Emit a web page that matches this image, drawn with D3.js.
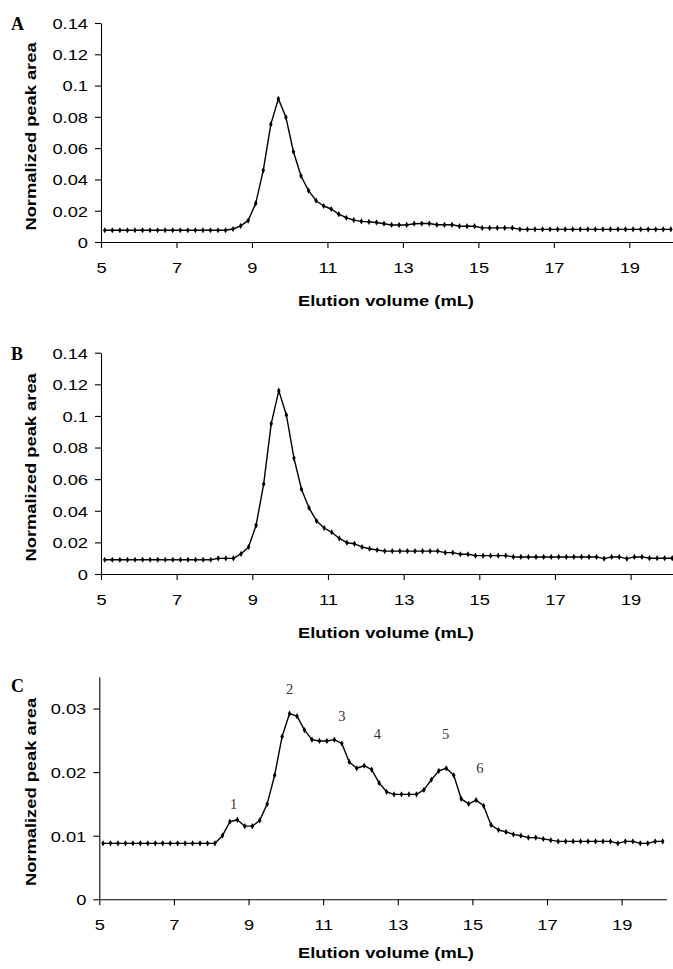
<!DOCTYPE html>
<html>
<head>
<meta charset="utf-8">
<script src="https://cdn.jsdelivr.net/npm/d3@7"></script>
<style>
  body { margin: 0; background: #fff; }
  svg { display: block; }
</style>
</head>
<body>
<div id="vis"></div>
<script>
/*
Data
*/

// elution volume of every collected fraction (mL)
const volumes = [
  5.1, 5.3, 5.5, 5.7, 5.9, 6.1, 6.3, 6.5, 6.7, 6.9,
  7.1, 7.3, 7.5, 7.7, 7.9, 8.1, 8.3, 8.5, 8.7, 8.9,
  9.1, 9.3, 9.5, 9.7, 9.9, 10.1, 10.3, 10.5, 10.7, 10.9,
  11.1, 11.3, 11.5, 11.7, 11.9, 12.1, 12.3, 12.5, 12.7, 12.9,
  13.1, 13.3, 13.5, 13.7, 13.9, 14.1, 14.3, 14.5, 14.7, 14.9,
  15.1, 15.3, 15.5, 15.7, 15.9, 16.1, 16.3, 16.5, 16.7, 16.9,
  17.1, 17.3, 17.5, 17.7, 17.9, 18.1, 18.3, 18.5, 18.7, 18.9,
  19.1, 19.3, 19.5, 19.7, 19.9, 20.1
];

const peakAreaA = [
  0.0075, 0.0075, 0.0075, 0.0075, 0.0075, 0.0075, 0.0075, 0.0075, 0.0075, 0.0075,
  0.0075, 0.0075, 0.0075, 0.0075, 0.0075, 0.0075, 0.0075, 0.0083, 0.0103, 0.0137,
  0.0247, 0.0458, 0.0752, 0.0916, 0.0797, 0.0577, 0.0422, 0.0328, 0.0264, 0.0230,
  0.0211, 0.0178, 0.0155, 0.0140, 0.0132, 0.0129, 0.0125, 0.0117, 0.0109, 0.0109,
  0.0109, 0.0117, 0.0118, 0.0118, 0.0110, 0.0110, 0.0110, 0.0101, 0.0101, 0.0101,
  0.0090, 0.0090, 0.0090, 0.0090, 0.0090, 0.0081, 0.0081, 0.0081, 0.0081, 0.0081,
  0.0081, 0.0081, 0.0081, 0.0081, 0.0081, 0.0081, 0.0081, 0.0081, 0.0081, 0.0081,
  0.0081, 0.0081, 0.0081, 0.0081, 0.0081, 0.0081
];

const peakAreaB = [
  0.0090, 0.0090, 0.0090, 0.0090, 0.0090, 0.0090, 0.0090, 0.0090, 0.0090, 0.0090,
  0.0090, 0.0090, 0.0090, 0.0090, 0.0090, 0.0099, 0.0099, 0.0099, 0.0127, 0.0171,
  0.0308, 0.0569, 0.0951, 0.1160, 0.1006, 0.0734, 0.0536, 0.0418, 0.0335, 0.0291,
  0.0264, 0.0225, 0.0198, 0.0191, 0.0171, 0.0160, 0.0152, 0.0145, 0.0145, 0.0145,
  0.0145, 0.0145, 0.0145, 0.0145, 0.0145, 0.0135, 0.0135, 0.0125, 0.0125, 0.0116,
  0.0116, 0.0116, 0.0116, 0.0116, 0.0108, 0.0108, 0.0108, 0.0108, 0.0108, 0.0108,
  0.0108, 0.0108, 0.0108, 0.0108, 0.0108, 0.0108, 0.0097, 0.0108, 0.0108, 0.0097,
  0.0108, 0.0108, 0.0100, 0.0100, 0.0100, 0.0100
];

const peakAreaC = [
  0.0088, 0.0088, 0.0088, 0.0088, 0.0088, 0.0088, 0.0088, 0.0088, 0.0088, 0.0088,
  0.0088, 0.0088, 0.0088, 0.0088, 0.0088, 0.0088, 0.0100, 0.0122, 0.0125, 0.0115,
  0.0115, 0.0124, 0.0150, 0.0195, 0.0256, 0.0292, 0.0288, 0.0266, 0.0251, 0.0249,
  0.0249, 0.0251, 0.0245, 0.0216, 0.0206, 0.0210, 0.0204, 0.0183, 0.0169, 0.0165,
  0.0165, 0.0165, 0.0165, 0.0172, 0.0188, 0.0202, 0.0206, 0.0195, 0.0158, 0.0150,
  0.0156, 0.0147, 0.0117, 0.0109, 0.0106, 0.0102, 0.0100, 0.0097, 0.0097, 0.0095,
  0.0093, 0.0091, 0.0091, 0.0091, 0.0091, 0.0091, 0.0091, 0.0091, 0.0091, 0.0088,
  0.0091, 0.0091, 0.0088, 0.0088, 0.0091, 0.0091
];

const xTicks = [5, 7, 9, 11, 13, 15, 17, 19];
const yTicksAB = [0, 0.02, 0.04, 0.06, 0.08, 0.1, 0.12, 0.14];
const yTickLabelsAB = ["0", "0.02", "0.04", "0.06", "0.08", "0.1", "0.12", "0.14"];
const yTicksC = [0, 0.01, 0.02, 0.03];
const yTickLabelsC = ["0", "0.01", "0.02", "0.03"];

// numbered peaks of panel C (label, elution volume, height)
const peakNames = ["1", "2", "3", "4", "5", "6"];
const peakNameVolume = [8.6, 10.1, 11.5, 12.45, 14.28, 15.2];
const peakNameHeight = [0.0150, 0.0330, 0.0288, 0.0260, 0.0260, 0.0206];

/*
Size constants
*/

const WIDTH = 673;
const HEIGHT = 969;
const STRETCH = 1.22;   // the sans text in the figure is drawn wide

const svg = d3.select("#vis")
              .append("svg")
              .attr("width", WIDTH)
              .attr("height", HEIGHT);

// widen a text selection along its own direction
function stretch(sel) {
    sel.each(function() {
        const w = this.getComputedTextLength();
        d3.select(this)
          .attr("textLength", w * STRETCH)
          .attr("lengthAdjust", "spacingAndGlyphs");
    });
}

function drawPanel(p) {
    const x = d3.scaleLinear().domain([5, 20.2]).range([p.left, p.right]);
    const y = d3.scaleLinear().domain([0, p.yMax]).range([p.bottom, p.top]);

    const g = svg.append("g").attr("id", "panel" + p.letter);

    // y axis
    const yAxis = g.append("g")
                   .attr("transform", `translate(${p.left},0)`)
                   .call(d3.axisLeft(y)
                           .tickValues(p.yTicks)
                           .tickFormat((d, i) => p.yLabels[i])
                           .tickSize(6)
                           .tickSizeOuter(0)
                           .tickPadding(7));

    // x axis
    const xAxis = g.append("g")
                   .attr("transform", `translate(0,${p.bottom})`)
                   .call(d3.axisBottom(x)
                           .tickValues(xTicks)
                           .tickFormat(d3.format("d"))
                           .tickSize(6)
                           .tickSizeOuter(0)
                           .tickPadding(14));

    [xAxis, yAxis].forEach(a => {
        a.select(".domain").attr("stroke", "#000").attr("stroke-width", 1.1);
        a.selectAll(".tick line").attr("stroke", "#000").attr("stroke-width", 1.1);
        a.selectAll(".tick text")
         .attr("fill", "#000")
         .style("font-family", "'Liberation Sans', Arial, sans-serif")
         .style("font-size", "15px");
    });
    yAxis.selectAll(".tick text").attr("dy", "0.36em");
    stretch(xAxis.selectAll(".tick text"));
    stretch(yAxis.selectAll(".tick text"));

    // axis titles
    const yTitle = g.append("text")
                    .attr("transform", `translate(36,${(p.top + p.bottom) / 2 + 4}) rotate(-90)`)
                    .attr("text-anchor", "middle")
                    .style("font-family", "'Liberation Sans', Arial, sans-serif")
                    .style("font-weight", "bold")
                    .style("font-size", "15px")
                    .text("Normalized peak area");
    stretch(yTitle);

    const xTitle = g.append("text")
                    .attr("x", 386)
                    .attr("y", p.titleY)
                    .attr("text-anchor", "middle")
                    .style("font-family", "'Liberation Sans', Arial, sans-serif")
                    .style("font-weight", "bold")
                    .style("font-size", "15px")
                    .text("Elution volume (mL)");
    stretch(xTitle);

    // panel letter
    g.append("text")
     .attr("x", 11)
     .attr("y", p.letterY)
     .style("font-family", "'Liberation Serif', 'Times New Roman', serif")
     .style("font-weight", "bold")
     .style("font-size", "18px")
     .text(p.letter);

    // trace
    const points = volumes.map((v, i) => ({v, a: p.values[i]}));
    const line = d3.line().x(d => x(d.v)).y(d => y(d.a));

    g.append("path")
     .datum(points)
     .attr("d", line)
     .attr("fill", "none")
     .attr("stroke", "#000")
     .attr("stroke-width", 1.4)
     .attr("stroke-linejoin", "round");

    g.selectAll("path.marker")
     .data(points)
     .enter()
     .append("path")
     .attr("class", "marker")
     .attr("d", d3.symbol().type(d3.symbolDiamond).size(11))
     .attr("transform", d => `translate(${x(d.v)},${y(d.a)})`)
     .attr("fill", "#000");

    return {x, y, g};
}

/*
Main
*/

drawPanel({letter: "A", values: peakAreaA, yMax: 0.14, yTicks: yTicksAB, yLabels: yTickLabelsAB,
           left: 101, right: 674.6, top: 23, bottom: 242, titleY: 306, letterY: 30});

drawPanel({letter: "B", values: peakAreaB, yMax: 0.14, yTicks: yTicksAB, yLabels: yTickLabelsAB,
           left: 101, right: 676, top: 352.7, bottom: 574, titleY: 638, letterY: 360});

const panelC = drawPanel({letter: "C", values: peakAreaC, yMax: 0.035, yTicks: yTicksC, yLabels: yTickLabelsC,
           left: 99.3, right: 666.4, top: 676.7, bottom: 899.3, titleY: 958, letterY: 692});

panelC.g.selectAll("text.peak")
        .data(peakNames)
        .enter()
        .append("text")
        .attr("class", "peak")
        .attr("x", (d, i) => panelC.x(peakNameVolume[i]))
        .attr("y", (d, i) => panelC.y(peakNameHeight[i]))
        .attr("dy", "0.35em")
        .attr("text-anchor", "middle")
        .attr("fill", "#333")
        .style("font-family", "'Liberation Serif', 'Times New Roman', serif")
        .style("font-size", "14.5px")
        .text(d => d);
</script>
</body>
</html>
